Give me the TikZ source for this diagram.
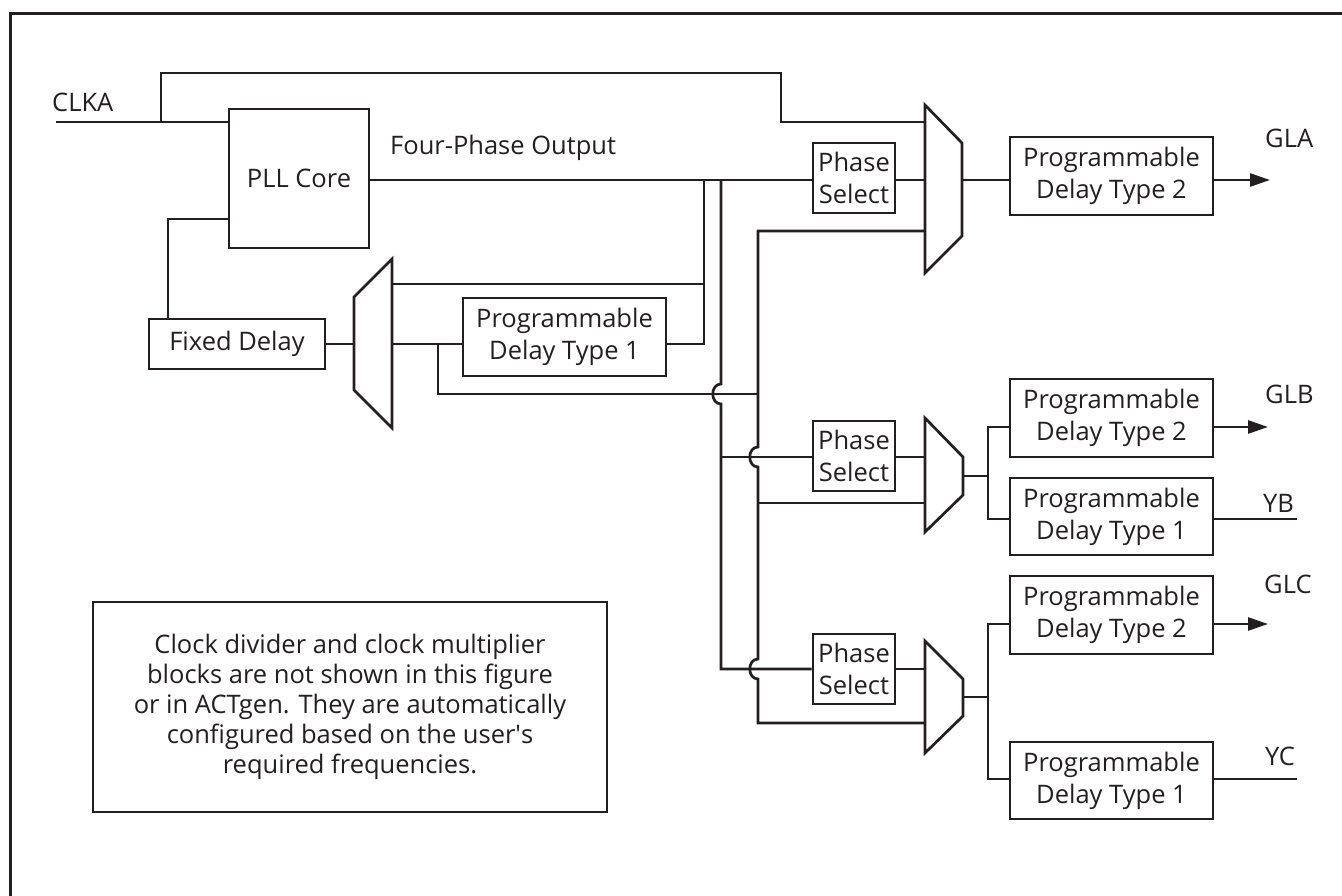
\documentclass[tikz,border=0pt]{standalone}
\usepackage{fontspec}
\setmainfont{Open Sans}
\usetikzlibrary{arrows.meta}
\definecolor{ink}{RGB}{35,31,32}
\begin{document}
\begin{tikzpicture}[x=1pt,y=-1pt,color=ink,
  wire/.style={line width=2.7pt, line join=miter},
  box/.style={draw, line width=2.7pt, inner sep=0pt, align=center,
    font=\fontsize{25.5}{32}\selectfont},
  lbl/.style={inner sep=0pt, anchor=base west, font=\fontsize{25.5}{30}\selectfont},
  mux/.style={draw, line width=2.7pt, line join=miter},
  outarrow/.style={wire, -{Triangle[length=20pt,width=13pt]}}]
\useasboundingbox (0,0) rectangle (1342,896);
\fill[white] (0,0) rectangle (1342,896);
% frame
\draw[line width=3pt] (1342,14) -- (10,14) -- (10,896);

% boxes
\node[box, minimum width=140pt, minimum height=139pt] (pll) at (299,178.5) {PLL Core};
\node[box, minimum width=176pt, minimum height=50pt] (fixed) at (237,344) {Fixed Delay};
\node[box, minimum width=203pt, minimum height=78pt] (pdL) at (564.5,337) {Programmable\\Delay Type 1};
\node[box, minimum width=82pt, minimum height=70pt] (psA) at (854,178) {Phase\\Select};
\node[box, minimum width=82pt, minimum height=70pt] (psB) at (854,456) {Phase\\Select};
\node[box, minimum width=82pt, minimum height=70pt] (psC) at (854,669) {Phase\\Select};
\node[box, minimum width=203pt, minimum height=78pt] (pdA) at (1111.5,176) {Programmable\\Delay Type 2};
\node[box, minimum width=203pt, minimum height=78pt] (pdBa) at (1111.5,418) {Programmable\\Delay Type 2};
\node[box, minimum width=203pt, minimum height=77pt] (pdBb) at (1111.5,516.5) {Programmable\\Delay Type 1};
\node[box, minimum width=203pt, minimum height=78pt] (pdCa) at (1111.5,615) {Programmable\\Delay Type 2};
\node[box, minimum width=203pt, minimum height=77pt] (pdCb) at (1111.5,780.5) {Programmable\\Delay Type 1};
\node[box, minimum width=514pt, minimum height=210pt, font=\fontsize{25.5}{30}\selectfont] (note) at (350,707)
  {Clock divider and clock multiplier\\blocks are not shown in this figure\\or in ACTgen. They are automatically\\configured based on the user\textquotesingle s\\required frequencies.};

% multiplexers
\draw[mux] (392,259) -- (392,428) -- (354,390) -- (354,297) -- cycle;
\draw[mux] (925,105) -- (962,143) -- (962,236) -- (925,273) -- cycle;
\draw[mux] (925,418) -- (963,457) -- (963,495) -- (925,532) -- cycle;
\draw[mux] (925,641) -- (963,679) -- (963,716) -- (925,753) -- cycle;
\coordinate (mLo) at (354,344);
\coordinate (mLa) at (392,284);
\coordinate (mLb) at (392,344);
\coordinate (mAa) at (925,122);
\coordinate (mAb) at (925,180);
\coordinate (mAc) at (925,231);
\coordinate (mAo) at (962,180);
\coordinate (mBa) at (925,457);
\coordinate (mBb) at (925,503);
\coordinate (mBo) at (963,476);
\coordinate (mCa) at (925,669);
\coordinate (mCb) at (925,723);
\coordinate (mCo) at (963,697);

% labels
\node[lbl] (clka) at (52,112) {CLKA};
\node[lbl] (fpo) at (390,155) {Four-Phase Output};
\node[lbl] (gla) at (1265,148) {GLA};
\node[lbl] (glb) at (1265,403) {GLB};
\node[lbl] (yb) at (1263,512) {YB};
\node[lbl] (glc) at (1264,593) {GLC};
\node[lbl] (yc) at (1265,765) {YC};

\coordinate (clkin) at (56,122);
\coordinate (j1) at (161,122);
\coordinate (outA) at (1270,180);
\coordinate (outB) at (1268,427);
\coordinate (outYB) at (1297,519);
\coordinate (outC) at (1268,624);
\coordinate (outYC) at (1297,779);

% wires
\draw[wire] (clkin) -- (clkin -| pll.west);
\draw[wire] (j1) -- (161,73) -- (781,73) -- (781,122) -- (mAa);
\draw[wire] (pll.east |- mAb) -- (psA.west |- mAb);
\draw[wire] (psA.east |- mAb) -- (mAb);
\draw[wire] (mAo) -- (pdA.west |- mAo);
\draw[outarrow] (pdA.east |- mAo) -- (outA);

\draw[wire] (704,180) -- (704,344) -- (pdL.east |- mLb);
\draw[wire] (704,284) -- (mLa);
\draw[wire] (mLo) -- (fixed.east |- mLo);
\draw[wire] (mLb) -- (pdL.west |- mLb);
\draw[wire] (438,344) -- (438,394) -- (758,394);
\draw[wire] (fixed.north -| 168,0) -- (168,219) -- (pll.west |- 0,219);

\draw[wire] (721,180) -- (721,384) .. controls (710,384) and (710,404) .. (721,404) -- (721,669) -- (psC.west |- mCa);
\draw[wire] (721,457) -- (psB.west |- mBa);

\draw[wire] (mAc) -- (758,231) -- (758,447) .. controls (747,447) and (747,467) .. (758,467)
  -- (758,659) .. controls (747,659) and (747,679) .. (758,679) -- (758,723) -- (mCb);
\draw[wire] (758,503) -- (mBb);

\draw[wire] (psB.east |- mBa) -- (mBa);
\draw[wire] (mBo) -- (988,476);
\draw[wire] (pdBa.west |- outB) -- (988,427) -- (988,519) -- (pdBb.west |- outYB);
\draw[outarrow] (pdBa.east |- outB) -- (outB);
\draw[wire] (pdBb.east |- outYB) -- (outYB);

\draw[wire] (psC.east |- mCa) -- (mCa);
\draw[wire] (mCo) -- (988,697);
\draw[wire] (pdCa.west |- outC) -- (988,624) -- (988,779) -- (pdCb.west |- outYC);
\draw[outarrow] (pdCa.east |- outC) -- (outC);
\draw[wire] (pdCb.east |- outYC) -- (outYC);
\end{tikzpicture}
\end{document}
